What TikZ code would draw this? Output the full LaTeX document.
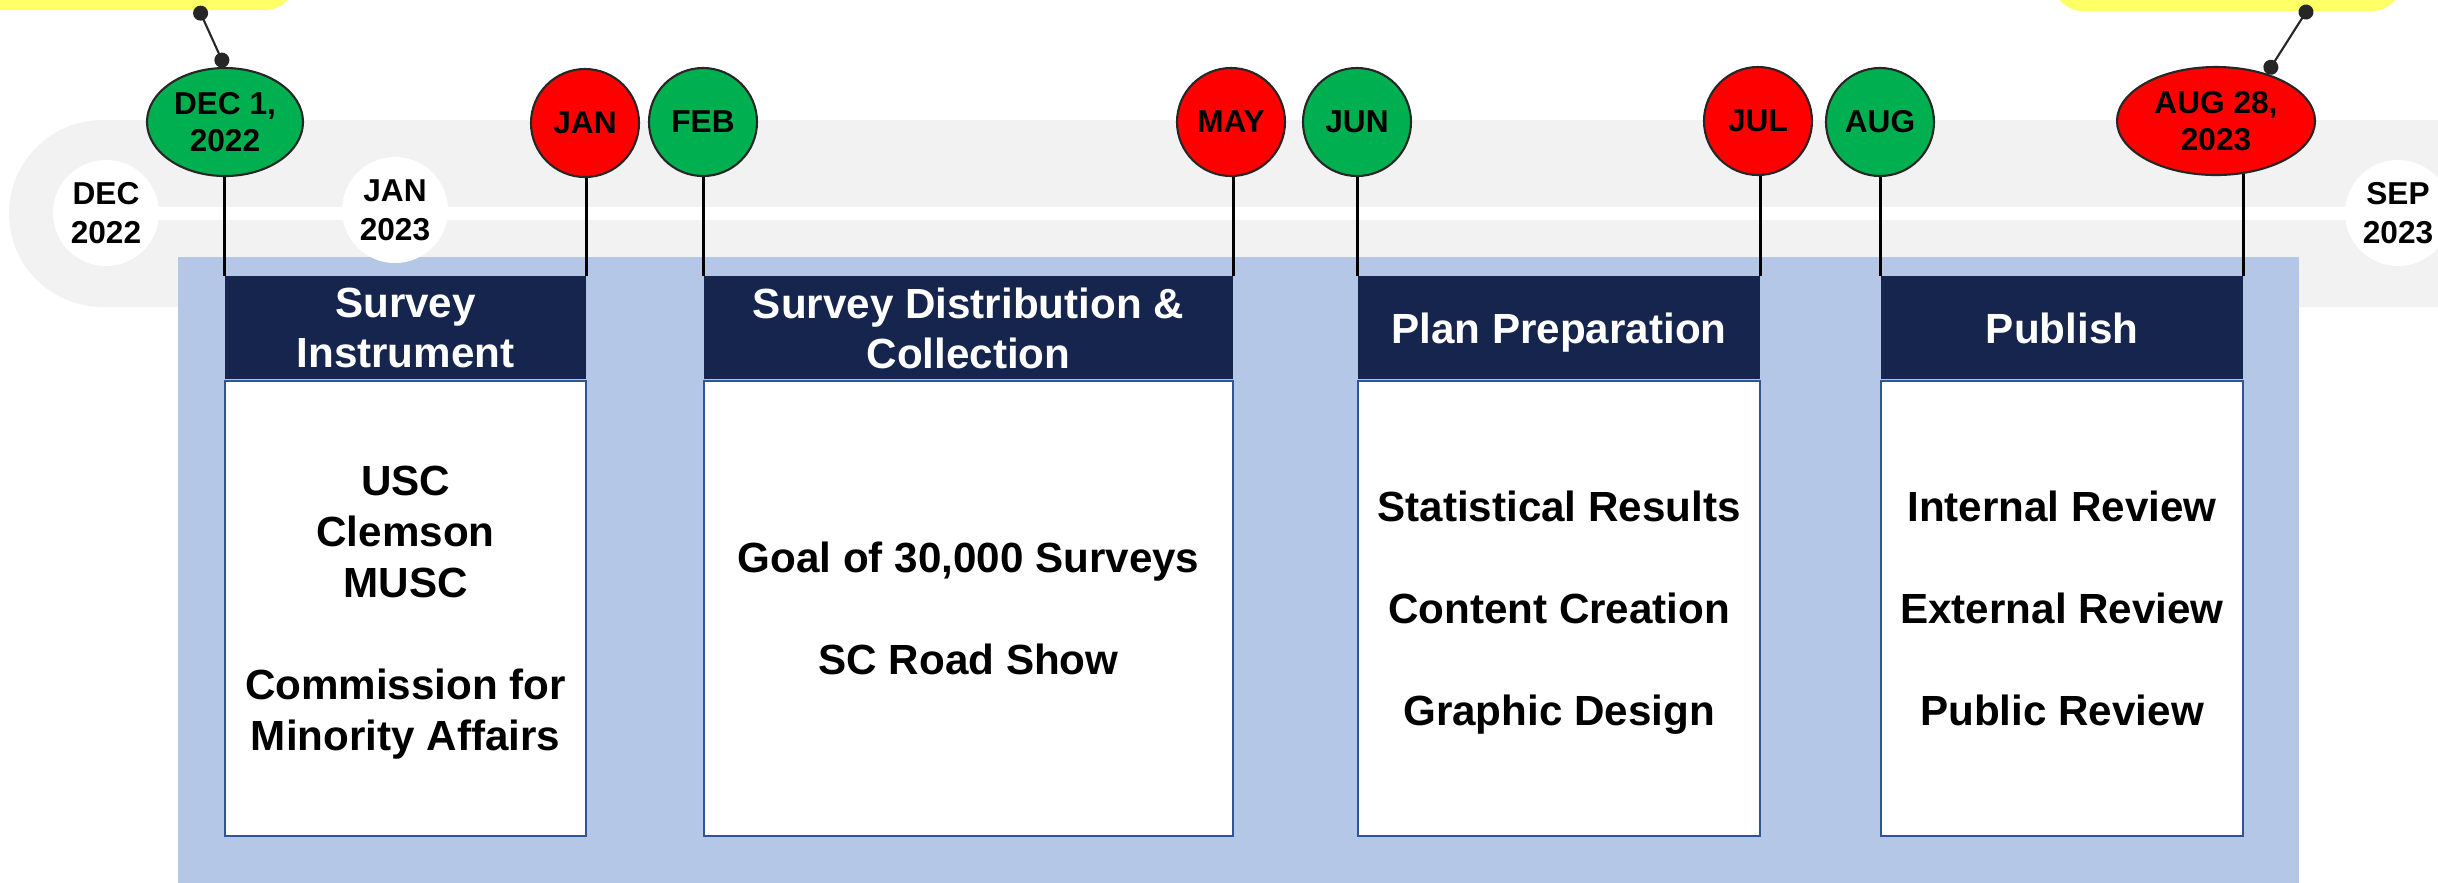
\documentclass[tikz,border=0pt]{standalone}
\usepackage{fontspec}
\setmainfont{Liberation Sans}
\usetikzlibrary{arrows.meta,shapes.geometric,positioning,calc}

\definecolor{bandgray}{RGB}{242,242,242}
\definecolor{paleblue}{RGB}{180,199,231}
\definecolor{navy}{RGB}{22,37,78}
\definecolor{boxline}{RGB}{47,85,151}
\definecolor{okgreen}{RGB}{0,176,80}
\definecolor{duered}{RGB}{255,0,0}
\definecolor{noteyellow}{RGB}{255,255,102}
\definecolor{pingray}{RGB}{38,38,38}

\begin{document}
\begin{tikzpicture}[
  month/.style={ellipse,draw=pingray,line width=0.6pt,inner sep=0pt,
    minimum width=1.08cm,minimum height=1.08cm,align=center,
    font=\fontsize{9}{10.5}\selectfont\bfseries},
  edge/.style={circle,fill=white,minimum size=1.06cm,inner sep=0pt,align=center,
    font=\fontsize{9}{11}\selectfont\bfseries},
  phase/.style={fill=navy,text=white,minimum height=1.03cm,inner sep=0pt,align=center,
    text depth=0pt,font=\fontsize{12}{14.2}\selectfont\bfseries},
  tasks/.style={fill=white,draw=boxline,line width=0.6pt,minimum height=4.55cm,
    inner sep=0pt,align=center,text depth=0pt,font=\fontsize{12}{14.5}\selectfont\bfseries},
  stem/.style={line width=0.75pt},
  tag/.style={{Circle[length=1.5mm]}-{Circle[length=1.5mm]},draw=pingray,line width=0.6pt}]
\useasboundingbox (0,0) rectangle (24.38,-8.82);
\clip (0,0) rectangle (24.38,-8.82);

% yellow notes, cut off at the top
\fill[noteyellow,rounded corners=0.3cm] (-1,1) rectangle (2.95,-0.10);
\fill[noteyellow,rounded corners=0.3cm] (20.53,1) rectangle (24.02,-0.11);

% timeline band
\fill[bandgray] (24.5,-1.20) -- (1.025,-1.20) arc (90:270:0.935) -- (24.5,-3.07) -- cycle;
\fill[white] (1.06,-2.07) rectangle (24.5,-2.20);
\fill[paleblue] (1.78,-2.57) rectangle (22.99,-8.9);
\node[edge] (dec22) at (1.06,-2.13) {DEC\\2022};
\node[edge] (jan23) at (3.95,-2.10) {JAN\\2023};
\node[edge] (sep23) at (23.98,-2.13) {SEP\\2023};

% phases
\node[tasks,minimum width=3.61cm,anchor=north west] (tk1) at (2.24,-3.80)
  {USC\\Clemson\\MUSC\\[14.5pt]Commission for\\Minority Affairs};
\node[phase,minimum width=3.61cm,above=0pt of tk1] (ph1) {Survey\\Instrument};

\node[tasks,minimum width=5.29cm,anchor=north west] (tk2) at (7.03,-3.80)
  {Goal of 30,000 Surveys\\[14.5pt]SC Road Show};
\node[phase,minimum width=5.29cm,above=0pt of tk2] (ph2) {Survey Distribution \&\\Collection};

\node[tasks,minimum width=4.02cm,anchor=north west] (tk3) at (13.57,-3.80)
  {Statistical Results\\[14.5pt]Content Creation\\[14.5pt]Graphic Design};
\node[phase,minimum width=4.02cm,above=0pt of tk3] (ph3) {Plan Preparation};

\node[tasks,minimum width=3.62cm,anchor=north west] (tk4) at (18.80,-3.80)
  {Internal Review\\[14.5pt]External Review\\[14.5pt]Public Review};
\node[phase,minimum width=3.62cm,above=0pt of tk4] (ph4) {Publish};

% milestones
\node[month,fill=okgreen,minimum width=1.56cm] (dec1) at (2.25,-1.22) {DEC 1,\\2022};
\node[month,fill=duered] (jan) at (5.85,-1.23) {JAN};
\node[month,fill=okgreen] (feb) at (7.03,-1.22) {FEB};
\node[month,fill=duered] (may) at (12.31,-1.22) {MAY};
\node[month,fill=okgreen] (jun) at (13.57,-1.22) {JUN};
\node[month,fill=duered] (jul) at (17.58,-1.21) {JUL};
\node[month,fill=okgreen] (aug) at (18.80,-1.22) {AUG};
\node[month,fill=duered,minimum width=1.98cm] (aug28) at (22.16,-1.21) {AUG 28,\\2023};

\foreach \ph/\a/\b in {ph1/dec1/jan, ph2/feb/may, ph3/jun/jul}{
  \draw[stem] (\ph.north west) -- (\ph.north west |- \a.south);
  \draw[stem] (\ph.north east) -- (\ph.north east |- \b.south);
}
\draw[stem] (ph4.north west) -- (ph4.north west |- aug.south);
\draw[stem] (ph4.north east) -- (ph4.north east |- aug28.-63);

% pins to the notes
\coordinate (noteL) at (1.975,-0.063);
\coordinate (noteR) at (23.10,-0.057);
\draw[tag] (noteL) -- (dec1.north);
\draw[tag] (noteR) -- (aug28.43);
\end{tikzpicture}
\end{document}
